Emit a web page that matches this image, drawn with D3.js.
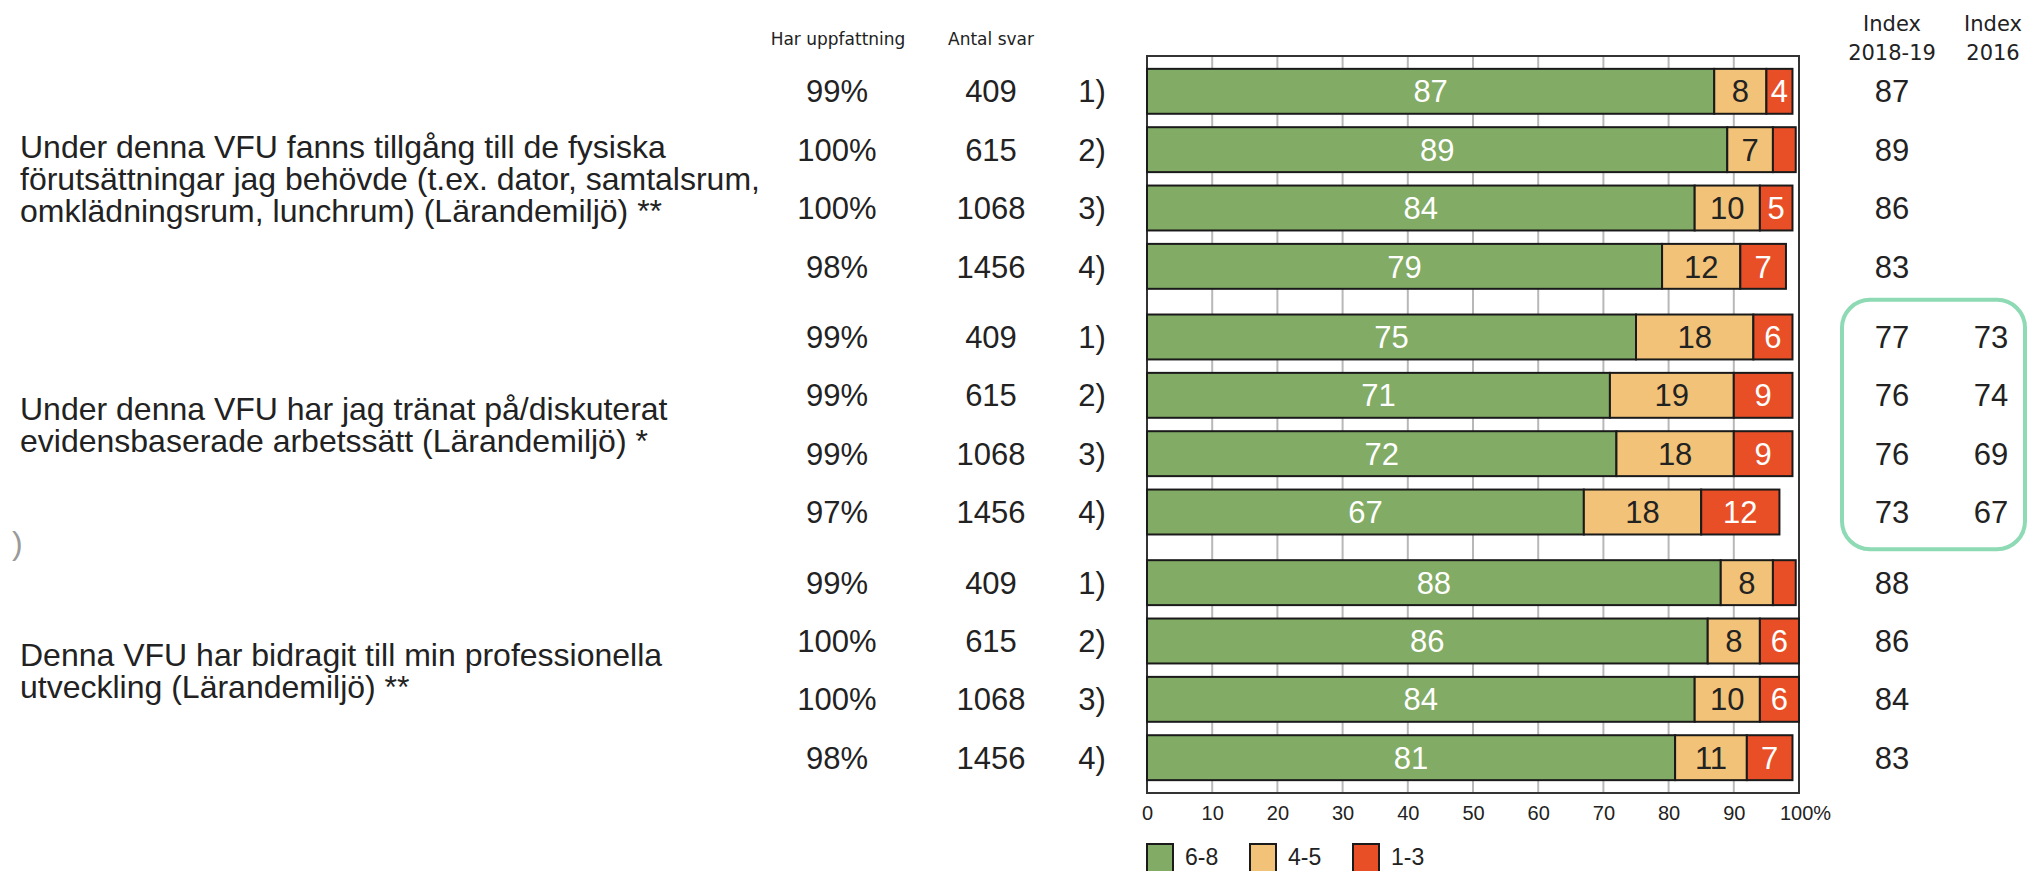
<!DOCTYPE html>
<html>
<head>
<meta charset="utf-8">
<script src="https://cdn.jsdelivr.net/npm/d3@7"></script>
<style>
  body { margin: 0; background: #fff; }
  svg { display: block; }
</style>
</head>
<body>
<script>
// data
const questions = [
  ["Under denna VFU fanns tillgång till de fysiska", "förutsättningar jag behövde (t.ex. dator, samtalsrum,", "omklädningsrum, lunchrum) (Lärandemiljö) **"],
  ["Under denna VFU har jag tränat på/diskuterat", "evidensbaserade arbetssätt (Lärandemiljö) *"],
  ["Denna VFU har bidragit till min professionella", "utveckling (Lärandemiljö) **"]
];
const rowLabels = ["1)", "2)", "3)", "4)"];
const antalSvar = [409, 615, 1068, 1456];
const harUppfattning = [[99, 100, 100, 98], [99, 99, 99, 97], [99, 100, 100, 98]];
const high = [[87, 89, 84, 79], [75, 71, 72, 67], [88, 86, 84, 81]];   // 6-8
const mid = [[8, 7, 10, 12], [18, 19, 18, 18], [8, 8, 10, 11]];        // 4-5
const low = [[4, 3.5, 5, 7], [6, 9, 9, 12], [3.5, 6, 6, 7]];           // 1-3
const index2018 = [[87, 89, 86, 83], [77, 76, 76, 73], [88, 86, 84, 83]];
const index2016 = [[null, null, null, null], [73, 74, 69, 67], [null, null, null, null]];
const legendLabels = ["6-8", "4-5", "1-3"];
const tickValues = [0, 10, 20, 30, 40, 50, 60, 70, 80, 90, 100];

const WIDTH = 2029;
const HEIGHT = 871;
const keys = ["hi", "mid", "lo"];
const colors = d3.scaleOrdinal().domain(keys).range(["#82ab65", "#f1c277", "#e84f26"]);
const labelColors = d3.scaleOrdinal().domain(keys).range(["#fff", "#222", "#fff"]);

const rows = questions.flatMap(function(q, gi) {
  return rowLabels.map(function(r, ri) {
    return { gi: gi, ri: ri, hi: high[gi][ri], mid: mid[gi][ri], lo: low[gi][ri] };
  });
});

const svg = d3.select("body")
  .append("svg")
  .attr("width", WIDTH)
  .attr("height", HEIGHT)
  .style("font-family", "'Liberation Sans', Arial, sans-serif");

const plotTop = 56, plotBottom = 793;

const x = d3.scaleLinear().domain([0, 100]).range([1147, 1799]);

const yGroup = d3.scaleBand()
  .domain(d3.range(questions.length))
  .range([plotTop, plotBottom])
  .paddingInner(0.05)
  .paddingOuter(0.025);

const yRow = d3.scaleBand()
  .domain(d3.range(rowLabels.length))
  .range([0, yGroup.bandwidth()])
  .paddingInner(0.23)
  .paddingOuter(0.115);

function rowY(d) { return yGroup(d.gi) + yRow(d.ri); }
function rowMid(d) { return rowY(d) + yRow.bandwidth() / 2; }

// headers
svg.append("g")
  .style("font-family", "'DejaVu Sans', sans-serif")
  .style("font-size", "17px")
  .attr("fill", "#222")
  .selectAll("text")
  .data([["Har uppfattning", 838], ["Antal svar", 991]])
  .enter()
  .append("text")
  .attr("x", d => d[1])
  .attr("y", 45)
  .attr("text-anchor", "middle")
  .text(d => d[0]);

const idxHead = svg.append("g")
  .style("font-family", "'DejaVu Sans', sans-serif")
  .style("font-size", "21px")
  .attr("fill", "#222")
  .attr("text-anchor", "middle");
[["Index", "2018-19", 1892], ["Index", "2016", 1993]].forEach(function(h) {
  idxHead.append("text").attr("x", h[2]).attr("y", 31).text(h[0]);
  idxHead.append("text").attr("x", h[2]).attr("y", 60).text(h[1]);
});

// frame + gridlines
svg.append("rect")
  .attr("x", x(0))
  .attr("y", plotTop)
  .attr("width", x(100) - x(0))
  .attr("height", plotBottom - plotTop)
  .attr("fill", "#fff")
  .attr("stroke", "#333")
  .attr("stroke-width", 2);

svg.append("g")
  .selectAll("line")
  .data(tickValues.slice(1, -1))
  .enter()
  .append("line")
  .attr("x1", d => x(d))
  .attr("x2", d => x(d))
  .attr("y1", plotTop + 1)
  .attr("y2", plotBottom - 1)
  .attr("stroke", "#b8b8b8")
  .attr("stroke-width", 2);

// axis
const axis = svg.append("g")
  .attr("transform", "translate(0," + plotBottom + ")")
  .call(d3.axisBottom(x)
    .tickValues(tickValues)
    .tickSize(0)
    .tickPadding(13)
    .tickFormat(d => d === 100 ? "100%" : d));
axis.select(".domain").remove();
axis.selectAll("text")
  .style("font-family", "'Liberation Sans', Arial, sans-serif")
  .style("font-size", "20px")
  .attr("fill", "#222")
  .attr("dx", d => d === 100 ? 6 : 0);

// stacked bars
const series = d3.stack().keys(keys)(rows);

const layers = svg.append("g")
  .selectAll("g")
  .data(series)
  .enter()
  .append("g")
  .attr("fill", d => colors(d.key));

layers.selectAll("rect")
  .data(d => d)
  .enter()
  .append("rect")
  .attr("x", d => x(d[0]))
  .attr("y", d => rowY(d.data))
  .attr("width", d => x(d[1]) - x(d[0]))
  .attr("height", yRow.bandwidth())
  .attr("stroke", "#1a1a1a")
  .attr("stroke-width", 2);

layers.selectAll("text")
  .data(d => d.map(p => ({ p: p, key: d.key })))
  .enter()
  .filter(d => d.p[1] - d.p[0] >= 4)
  .append("text")
  .attr("x", d => (x(d.p[0]) + x(d.p[1])) / 2)
  .attr("y", d => rowMid(d.p.data))
  .attr("dy", "0.36em")
  .attr("text-anchor", "middle")
  .style("font-size", "31px")
  .attr("fill", d => labelColors(d.key))
  .text(d => Math.round(d.p[1] - d.p[0]));

// row columns
const cols = [
  { x: 837, f: d => harUppfattning[d.gi][d.ri] + "%" },
  { x: 991, f: d => antalSvar[d.ri] },
  { x: 1092, f: d => rowLabels[d.ri] },
  { x: 1892, f: d => index2018[d.gi][d.ri] },
  { x: 1991, f: d => index2016[d.gi][d.ri] == null ? "" : index2016[d.gi][d.ri] }
];

cols.forEach(function(c) {
  svg.append("g")
    .selectAll("text")
    .data(rows)
    .enter()
    .append("text")
    .attr("x", c.x)
    .attr("y", d => rowMid(d))
    .attr("dy", "0.36em")
    .attr("text-anchor", "middle")
    .style("font-size", "31px")
    .attr("fill", "#222")
    .text(c.f);
});

// question texts
const LINE = 32;
questions.forEach(function(lines, gi) {
  const center = yGroup(gi) + yGroup.bandwidth() / 2;
  const t = svg.append("text")
    .attr("x", 20)
    .attr("y", center - (lines.length - 1) * LINE / 2)
    .style("font-size", "32px")
    .attr("fill", "#222");
  t.selectAll("tspan")
    .data(lines)
    .enter()
    .append("tspan")
    .attr("x", 20)
    .attr("dy", (d, i) => i === 0 ? "0.36em" : LINE)
    .text(d => d);
});

// stray spinner fragment at the left edge
svg.append("text")
  .attr("x", 12)
  .attr("y", 554)
  .style("font-size", "32px")
  .attr("fill", "#9a9a9a")
  .text(")");

// highlight box round the 2016 comparison
svg.append("rect")
  .attr("x", 1842)
  .attr("y", yGroup(1) - 8)
  .attr("width", 183)
  .attr("height", yGroup.bandwidth() + 16)
  .attr("rx", 28)
  .attr("fill", "none")
  .attr("stroke", "#8ddab4")
  .attr("stroke-width", 4);

// legend
const legend = svg.append("g")
  .selectAll("g")
  .data(keys)
  .enter()
  .append("g")
  .attr("transform", (d, i) => "translate(" + (1147 + i * 103) + ",844)");

legend.append("rect")
  .attr("width", 26)
  .attr("height", 30)
  .attr("fill", d => colors(d))
  .attr("stroke", "#1a1a1a")
  .attr("stroke-width", 2);

legend.append("text")
  .attr("x", 38)
  .attr("y", 21)
  .style("font-size", "23px")
  .attr("fill", "#222")
  .text((d, i) => legendLabels[i]);
</script>
</body>
</html>
